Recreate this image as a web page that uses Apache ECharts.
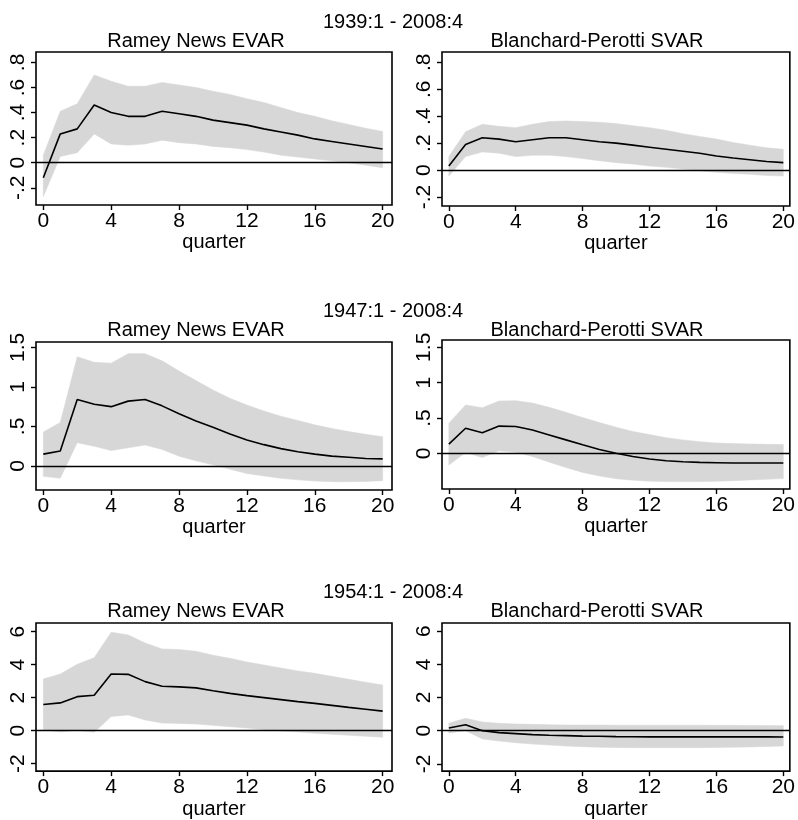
<!DOCTYPE html>
<html>
<head>
<meta charset="utf-8">
<script src="https://cdn.jsdelivr.net/npm/echarts@6/dist/echarts.min.js"></script>
<style>
  html, body { margin: 0; padding: 0; background: #fff; }
  #chart { width: 798px; height: 820px; }
</style>
</head>
<body>
<div id="chart"></div>
<script>
"use strict";
/* Impulse responses by sample period, two identification schemes side by side. */
var QUARTERS = [0, 1, 2, 3, 4, 5, 6, 7, 8, 9, 10, 11, 12, 13, 14, 15, 16, 17, 18, 19, 20];
var X_TICKS = [0, 4, 8, 12, 16, 20];
var SAMPLES = ["1939:1 - 2008:4", "1947:1 - 2008:4", "1954:1 - 2008:4"];
var MODELS = ["Ramey News EVAR", "Blanchard-Perotti SVAR"];

var Y_TICKS_1939 = [-0.2, 0, 0.2, 0.4, 0.6, 0.8];
var Y_TICKS_1947 = [0, 0.5, 1, 1.5];
var Y_TICKS_1954 = [-2, 0, 2, 4, 6];

/* 1939:1 - 2008:4 */
var RAMEY39_IRF = [-0.12, 0.23, 0.27, 0.46, 0.40, 0.37, 0.37, 0.41, 0.39, 0.37, 0.34, 0.32, 0.30, 0.27, 0.245, 0.22, 0.19, 0.17, 0.15, 0.13, 0.11];
var RAMEY39_HI  = [0.06, 0.41, 0.47, 0.70, 0.65, 0.61, 0.61, 0.64, 0.62, 0.60, 0.57, 0.545, 0.51, 0.48, 0.44, 0.40, 0.37, 0.335, 0.305, 0.275, 0.25];
var RAMEY39_LO  = [-0.27, 0.05, 0.08, 0.23, 0.15, 0.14, 0.15, 0.18, 0.16, 0.15, 0.13, 0.12, 0.105, 0.085, 0.06, 0.045, 0.03, 0.015, 0, -0.02, -0.04];
var BP39_IRF = [0.03, 0.19, 0.24, 0.23, 0.21, 0.225, 0.24, 0.24, 0.225, 0.21, 0.20, 0.185, 0.17, 0.155, 0.14, 0.125, 0.105, 0.09, 0.077, 0.064, 0.055];
var BP39_HI  = [0.10, 0.285, 0.34, 0.325, 0.315, 0.34, 0.36, 0.365, 0.36, 0.355, 0.345, 0.33, 0.315, 0.295, 0.27, 0.25, 0.23, 0.205, 0.185, 0.165, 0.155];
var BP39_LO  = [-0.045, 0.10, 0.135, 0.125, 0.10, 0.11, 0.11, 0.10, 0.085, 0.07, 0.055, 0.045, 0.03, 0.02, 0.007, -0.005, -0.017, -0.025, -0.032, -0.04, -0.045];

/* 1947:1 - 2008:4 */
var RAMEY47_IRF = [0.15, 0.19, 0.84, 0.78, 0.75, 0.82, 0.84, 0.76, 0.66, 0.57, 0.49, 0.405, 0.33, 0.27, 0.22, 0.18, 0.15, 0.125, 0.11, 0.095, 0.09];
var RAMEY47_HI  = [0.43, 0.55, 1.38, 1.31, 1.30, 1.42, 1.42, 1.33, 1.20, 1.08, 0.96, 0.855, 0.77, 0.695, 0.63, 0.575, 0.52, 0.475, 0.435, 0.40, 0.37];
var RAMEY47_LO  = [-0.13, -0.155, 0.295, 0.25, 0.195, 0.23, 0.265, 0.21, 0.125, 0.065, 0.015, -0.04, -0.095, -0.125, -0.155, -0.175, -0.19, -0.198, -0.198, -0.195, -0.185];
var BP47_IRF = [0.13, 0.355, 0.29, 0.385, 0.38, 0.33, 0.26, 0.19, 0.12, 0.055, 0, -0.045, -0.08, -0.105, -0.12, -0.128, -0.133, -0.137, -0.138, -0.138, -0.138];
var BP47_HI  = [0.425, 0.685, 0.645, 0.74, 0.745, 0.71, 0.65, 0.58, 0.505, 0.435, 0.37, 0.31, 0.265, 0.22, 0.19, 0.165, 0.145, 0.137, 0.132, 0.127, 0.123];
var BP47_LO  = [-0.165, 0.01, -0.06, 0.035, 0.015, -0.045, -0.125, -0.2, -0.27, -0.32, -0.36, -0.38, -0.395, -0.40, -0.40, -0.40, -0.395, -0.387, -0.377, -0.368, -0.358];

/* 1954:1 - 2008:4 */
var RAMEY54_IRF = [1.58, 1.68, 2.06, 2.14, 3.43, 3.41, 2.97, 2.69, 2.65, 2.59, 2.42, 2.26, 2.12, 2.0, 1.88, 1.76, 1.65, 1.53, 1.41, 1.30, 1.18];
var RAMEY54_HI  = [3.13, 3.43, 4.02, 4.42, 5.96, 5.80, 5.31, 4.95, 4.91, 4.81, 4.57, 4.38, 4.16, 3.98, 3.80, 3.62, 3.47, 3.29, 3.11, 2.93, 2.77];
var RAMEY54_LO  = [0.05, -0.08, 0.02, -0.10, 0.85, 0.95, 0.65, 0.46, 0.44, 0.40, 0.32, 0.24, 0.16, 0.06, -0.02, -0.08, -0.16, -0.22, -0.28, -0.34, -0.40];
var BP54_IRF = [0.16, 0.36, 0, -0.12, -0.18, -0.24, -0.28, -0.30, -0.33, -0.34, -0.36, -0.37, -0.375, -0.375, -0.375, -0.375, -0.375, -0.375, -0.375, -0.375, -0.38];
var BP54_HI  = [0.45, 0.75, 0.52, 0.44, 0.40, 0.38, 0.36, 0.34, 0.34, 0.335, 0.33, 0.33, 0.33, 0.33, 0.33, 0.33, 0.32, 0.32, 0.31, 0.31, 0.30];
var BP54_LO  = [-0.14, 0, -0.50, -0.63, -0.73, -0.81, -0.87, -0.93, -0.97, -1.0, -1.02, -1.03, -1.03, -1.03, -1.03, -1.03, -1.02, -1.0, -0.98, -0.96, -0.93];

var FONT = "Liberation Sans, Arial, Helvetica, sans-serif";
var BAND = "#d7d7d7";

/* panel boxes in pixels, with the axis range each box shows */
var panels = [
  { box: [36, 52, 356, 153],  x: [-0.43, 20.55], y: [-0.337, 0.883], ticks: Y_TICKS_1939, irf: RAMEY39_IRF, lo: RAMEY39_LO, hi: RAMEY39_HI },
  { box: [442, 52, 353, 154], x: [-0.41, 20.39], y: [-0.267, 0.877], ticks: Y_TICKS_1939, irf: BP39_IRF, lo: BP39_LO, hi: BP39_HI },
  { box: [36, 342, 356, 148], x: [-0.43, 20.55], y: [-0.303, 1.567], ticks: Y_TICKS_1947, irf: RAMEY47_IRF, lo: RAMEY47_LO, hi: RAMEY47_HI },
  { box: [442, 340, 353, 149], x: [-0.41, 20.39], y: [-0.505, 1.603], ticks: Y_TICKS_1947, irf: BP47_IRF, lo: BP47_LO, hi: BP47_HI },
  { box: [36, 623, 356, 151], x: [-0.43, 20.55], y: [-2.45, 6.52], ticks: Y_TICKS_1954, irf: RAMEY54_IRF, lo: RAMEY54_LO, hi: RAMEY54_HI },
  { box: [442, 623, 353, 151], x: [-0.41, 20.39], y: [-2.44, 6.49], ticks: Y_TICKS_1954, irf: BP54_IRF, lo: BP54_LO, hi: BP54_HI }
];
var ROW_OFFSET = [0, 289, 570];

function stataNum(v) {
  return String(v).replace(/^(-?)0\./, "$1.");
}
function pairs(vals) {
  return QUARTERS.map(function (q, i) { return [q, vals[i]]; });
}

/* confidence band: one polygon, upper edge forward then lower edge back */
function bandRenderer(lo, hi) {
  return function (params, api) {
    if (params.dataIndex !== 0) return null;
    var pts = [];
    QUARTERS.forEach(function (q, k) { pts.push(api.coord([q, hi[k]])); });
    for (var k = QUARTERS.length - 1; k >= 0; k--) pts.push(api.coord([QUARTERS[k], lo[k]]));
    return { type: "polygon", shape: { points: pts }, style: { fill: BAND, stroke: BAND, lineWidth: 0.5 } };
  };
}

var grids = [], xAxes = [], yAxes = [], series = [], texts = [];
panels.forEach(function (p, i) {
  grids.push({ left: p.box[0], top: p.box[1], width: p.box[2], height: p.box[3],
    show: true, borderColor: "#000", borderWidth: 1.6, backgroundColor: "#fff" });
  xAxes.push({ gridIndex: i, type: "value", min: p.x[0], max: p.x[1],
    name: "quarter", nameLocation: "middle", nameGap: 21,
    nameTextStyle: { fontFamily: FONT, fontSize: 20, color: "#000" },
    axisLine: { show: false, onZero: false }, splitLine: { show: false },
    axisTick: { show: true, customValues: X_TICKS, length: 5, lineStyle: { color: "#000", width: 1.4 } },
    axisLabel: { customValues: X_TICKS, margin: 6, fontFamily: FONT, fontSize: 21, color: "#000" } });
  yAxes.push({ gridIndex: i, type: "value", min: p.y[0], max: p.y[1],
    axisLine: { show: false, onZero: false }, splitLine: { show: false },
    axisTick: { show: true, customValues: p.ticks, length: 5, lineStyle: { color: "#000", width: 1.4 } },
    axisLabel: { customValues: p.ticks, rotate: 90, margin: 7, fontFamily: FONT, fontSize: 21, color: "#000",
      formatter: stataNum } });

  series.push({ type: "custom", xAxisIndex: i, yAxisIndex: i, silent: true, z: 1,
    data: QUARTERS.map(function (q, k) { return [q, p.lo[k], p.hi[k]]; }),
    encode: { x: 0, y: [1, 2] },
    renderItem: bandRenderer(p.lo, p.hi) });
  series.push({ type: "line", xAxisIndex: i, yAxisIndex: i, data: pairs(p.irf), symbol: "none", z: 3,
    lineStyle: { color: "#000", width: 1.6 }, silent: true,
    markLine: { silent: true, symbol: "none", label: { show: false },
      lineStyle: { color: "#000", width: 1.4, type: "solid" }, data: [{ yAxis: 0 }] } });
});

ROW_OFFSET.forEach(function (off, r) {
  texts.push({ type: "text", x: 393, y: 12 + off,
    style: { text: SAMPLES[r], fontFamily: FONT, fontSize: 20, fill: "#000", align: "center", verticalAlign: "top" } });
  texts.push({ type: "text", x: 196, y: 31 + off,
    style: { text: MODELS[0], fontFamily: FONT, fontSize: 20, fill: "#000", align: "center", verticalAlign: "top" } });
  texts.push({ type: "text", x: 597, y: 31 + off,
    style: { text: MODELS[1], fontFamily: FONT, fontSize: 20, fill: "#000", align: "center", verticalAlign: "top" } });
});

var chart = echarts.init(document.getElementById("chart"));
chart.setOption({
  animation: false,
  backgroundColor: "#fff",
  grid: grids,
  xAxis: xAxes,
  yAxis: yAxes,
  series: series,
  graphic: texts
});
</script>
</body>
</html>
